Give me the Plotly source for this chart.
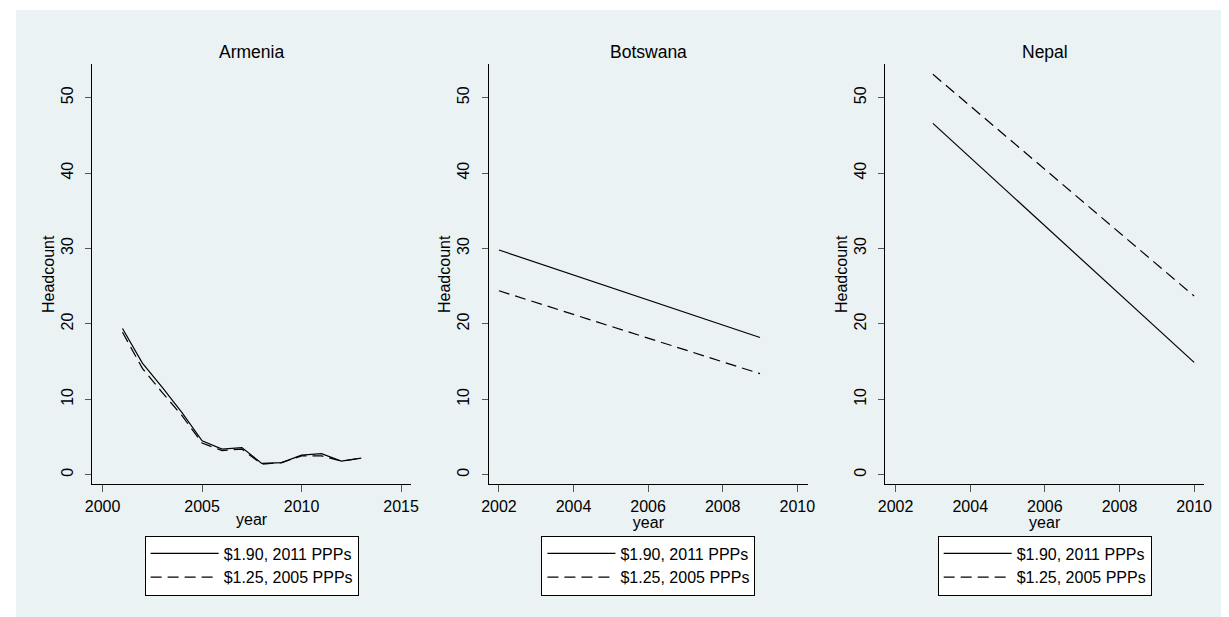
import plotly.graph_objects as go

W, H = 1229, 617

countries = ["Armenia", "Botswana", "Nepal"]
series_names = ["$1.90, 2011 PPPs", "$1.25, 2005 PPPs"]

armenia_years = [2001, 2002, 2003, 2004, 2005, 2006, 2007, 2008, 2009, 2010, 2011, 2012, 2013]
armenia_190 = [19.4, 14.8, 11.6, 8.2, 4.5, 3.4, 3.6, 1.5, 1.6, 2.6, 2.8, 1.8, 2.2]
armenia_125 = [18.9, 14.1, 10.9, 7.8, 4.2, 3.2, 3.4, 1.4, 1.6, 2.5, 2.5, 1.8, 2.2]

botswana_years = [2002, 2009]
botswana_190 = [29.8, 18.2]
botswana_125 = [24.4, 13.4]

nepal_years = [2003, 2010]
nepal_190 = [46.6, 14.9]
nepal_125 = [53.1, 23.7]

armenia_xticks = [2000, 2005, 2010, 2015]
other_xticks = [2002, 2004, 2006, 2008, 2010]
y_ticks = [0, 10, 20, 30, 40, 50]

data = [
    (armenia_years, armenia_190, armenia_125),
    (botswana_years, botswana_190, botswana_125),
    (nepal_years, nepal_190, nepal_125),
]

# layout geometry (pixels)
x_px = [(86.3, 409.0), (487.7, 811.0), (889.0, 1212.0)]
y_top, y_bot = 64.3, 484.3
x_ranges = [(1999.48, 2015.5), (2001.727, 2010.29), (2001.72, 2010.27)]
y_range = (-1.27, 54.43)


def fx(px):
    return px / W


def fy(py):
    return 1 - py / H


FONT = "Liberation Sans, Arial, sans-serif"
BG = "#eaf2f3"
TICK = 16
TITLE = 17.5

fig = go.Figure()
legend_ids = ["legend", "legend2", "legend3"]
dashes = ["solid", "11px,6px"]

for i, (yrs, s1, s2) in enumerate(data):
    xa = "x" if i == 0 else f"x{i+1}"
    ya = "y" if i == 0 else f"y{i+1}"
    for j, vals in enumerate([s1, s2]):
        fig.add_trace(go.Scatter(
            x=yrs, y=vals, mode="lines", name=series_names[j],
            line=dict(color="black", width=1.2, dash=dashes[j]),
            xaxis=xa, yaxis=ya, legend=legend_ids[i], showlegend=True,
            hoverinfo="x+y",
        ))

layout = dict(
    width=W, height=H,
    margin=dict(l=0, r=0, t=0, b=0),
    paper_bgcolor="white",
    plot_bgcolor="white",
    font=dict(family=FONT, size=TICK, color="black"),
    showlegend=True,
)

annotations = []
for i in range(3):
    sfx = "" if i == 0 else str(i + 1)
    x0, x1 = x_px[i]
    layout["xaxis" + sfx] = dict(
        domain=[fx(x0), fx(x1)], range=list(x_ranges[i]),
        tickvals=armenia_xticks if i == 0 else other_xticks,
        ticks="outside", ticklen=7, tickcolor="#555", tickwidth=1,
        showline=True, linecolor="black", linewidth=1,
        showgrid=False, zeroline=False,
        tickfont=dict(size=TICK, family=FONT, color="black"),
        title=dict(text="year", font=dict(size=TICK, family=FONT, color="black"), standoff=0),
        anchor="y" + sfx,
    )
    layout["yaxis" + sfx] = dict(
        domain=[fy(y_bot), fy(y_top)], range=list(y_range),
        tickvals=y_ticks, tickangle=-90,
        ticks="outside", ticklen=6, tickcolor="#555", tickwidth=1,
        ticklabelstandoff=6,
        showline=True, linecolor="black", linewidth=1,
        showgrid=True, gridcolor=BG, gridwidth=1,
        zeroline=False,
        tickfont=dict(size=TICK, family=FONT, color="black"),
        title=dict(text="Headcount", font=dict(size=TICK, family=FONT, color="black"), standoff=0),
        anchor="x" + sfx,
    )
    annotations.append(dict(
        text=countries[i], x=fx((x0 + x1) / 2), y=fy(52),
        xref="paper", yref="paper", xanchor="center", yanchor="middle",
        showarrow=False, font=dict(size=TITLE, family=FONT, color="black"),
    ))
    layout[legend_ids[i]] = dict(
        x=fx((x0 + x1) / 2), y=fy(535.5),
        xanchor="center", yanchor="top",
        bgcolor="white", bordercolor="black", borderwidth=1,
        font=dict(size=TICK, family=FONT, color="black"),
        traceorder="normal", itemwidth=68,
    )

layout["annotations"] = annotations
layout["shapes"] = [dict(
    type="rect", xref="paper", yref="paper",
    x0=fx(9), x1=1.0, y0=0.0, y1=fy(10),
    fillcolor=BG, line=dict(width=0), layer="below",
)]

fig.update_layout(**layout)
fig.write_html(
    "out.html",
    config={"displayModeBar": False},
    post_script="document.body.style.margin='0';document.documentElement.style.overflow='hidden';",
)
